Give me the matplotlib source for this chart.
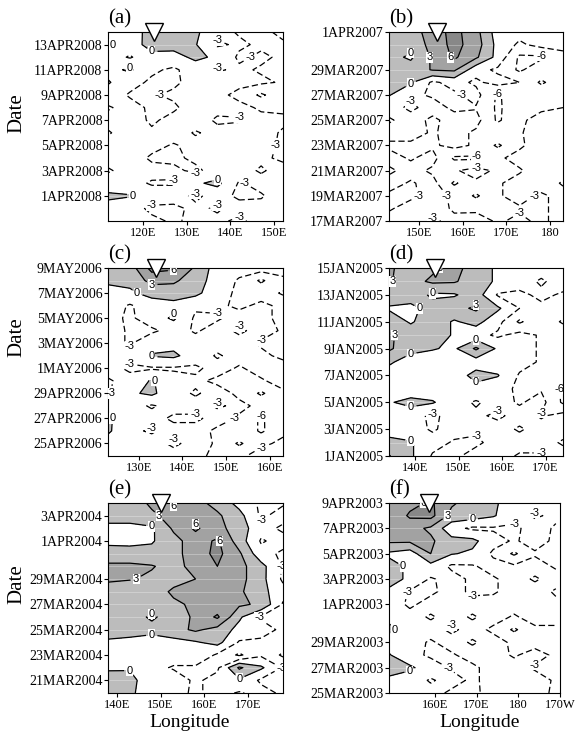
import matplotlib
matplotlib.use("Agg")
import matplotlib.pyplot as plt
import numpy as np

plt.rcParams["font.family"] = "Liberation Serif"

# ---- panel (a) : 30MAR2008 - 14APR2008, rows from top (latest day) to bottom
lon_a = [112, 117, 122, 127, 132, 137, 142, 147, 152]
field_a = [
    [-0.5, -2.0, 1.5, 2.0, 0.5, -2.0, -3.3, -3.5, -2.5],
    [0.4, -1.5, 1.2, 1.0, 0.2, -3.5, -2.5, -3.5, -3.3],
    [-1.5, -3.3, -1.0, -1.0, 0.6, -0.5, -3.5, -2.5, -3.5],
    [-1.0, 0.5, -2.5, -3.5, -1.5, -3.3, -2.5, -3.3, -3.5],
    [0.3, -2.0, -3.5, -3.5, -2.0, -1.5, -2.0, -2.5, -3.3],
    [-1.5, -3.3, -3.3, -2.5, -1.5, -2.0, -4.0, -6.5, -4.0],
    [-3.3, -2.0, -3.5, -3.5, -1.5, -2.0, -2.0, -3.5, -3.5],
    [-2.0, -1.5, -3.5, -2.0, -1.5, -3.5, -3.3, -2.0, -2.5],
    [-3.3, -1.5, -2.5, -1.5, -3.3, -2.0, -1.5, -2.0, -3.3],
    [-2.0, -1.0, -2.0, -3.3, -2.0, -1.5, -1.5, -2.0, -3.5],
    [-2.0, -1.5, -3.5, -3.5, -2.5, -1.5, -1.5, -2.5, -3.5],
    [-3.3, -2.0, -2.0, -2.5, -3.5, -2.0, -2.0, -3.3, -2.0],
    [-1.5, -2.0, -3.3, -3.2, -0.5, 0.8, -3.3, -2.0, -1.5],
    [0.5, 0.2, -1.5, -2.0, -3.5, -2.0, -3.5, -3.3, -1.5],
    [-1.0, -2.0, -3.5, -3.5, -2.5, -3.3, -2.0, -2.0, -2.0],
    [-1.5, -2.0, -2.5, -3.3, -2.5, -2.5, -3.5, -2.0, -2.0],
]
day_a = [2, 4, 6, 8, 10, 12, 14]
date_a = ["1APR2008", "3APR2008", "5APR2008", "7APR2008", "9APR2008", "11APR2008", "13APR2008"]
xt_a = [120, 130, 140, 150]
xl_a = ["120E", "130E", "140E", "150E"]
storm_a = 122.5

# ---- panel (b) : 17MAR2007 - 1APR2007
lon_b = [143, 148, 153, 158, 163, 168, 173, 178, 183]
field_b = [
    [1.5, 1.5, 4.5, 7.0, 4.0, -1.5, -2.0, -2.0, -2.0],
    [1.2, 1.0, 4.0, 7.0, 4.5, -1.0, -3.5, -2.0, -2.0],
    [1.0, -0.5, 3.5, 6.5, 3.5, -1.0, -6.5, -6.5, -4.0],
    [1.5, 1.5, 3.2, 3.5, -2.0, -3.5, -6.5, -4.0, -3.0],
    [1.5, 0.3, -3.5, -2.0, -3.5, -2.0, -3.0, -6.5, -4.0],
    [0.2, -2.5, -3.3, -3.5, -2.0, -6.5, -3.5, -3.5, -3.0],
    [-2.0, -3.5, -2.0, -3.5, -3.2, -6.5, -4.0, -3.5, -3.0],
    [-3.3, -2.0, -3.5, -2.0, -2.0, -6.5, -3.5, -2.0, -2.0],
    [-2.0, -2.0, -3.3, -2.0, -3.5, -3.5, -3.2, -2.0, -1.5],
    [-3.5, -3.5, -3.5, -2.0, -3.5, -6.5, -3.5, -1.5, -1.5],
    [-2.0, -3.3, -2.0, -6.5, -6.5, -3.5, -2.0, -1.5, -1.5],
    [-3.5, -2.0, -3.5, -3.3, -2.0, -3.5, -3.3, -1.5, -2.0],
    [-2.0, -3.3, -2.0, -6.5, -3.5, -3.3, -2.0, -1.5, -3.3],
    [-3.5, -3.5, -2.0, -3.5, -6.5, -3.3, -2.0, -3.5, -2.0],
    [-3.3, -2.0, -2.0, -3.3, -3.5, -3.5, -3.3, -3.5, -2.0],
    [-2.0, -2.0, -3.3, -2.5, -2.0, -3.3, -2.5, -3.5, -2.0],
]
day_b = [0, 2, 4, 6, 8, 10, 12, 15]
date_b = ["17MAR2007", "19MAR2007", "21MAR2007", "23MAR2007", "25MAR2007", "27MAR2007", "29MAR2007", "1APR2007"]
xt_b = [150, 160, 170, 180]
xl_b = ["150E", "160E", "170E", "180"]
storm_b = 154

# ---- panel (c) : 24APR2006 - 9MAY2006
lon_c = [123, 128, 133, 138, 143, 148, 153, 158, 163]
field_c = [
    [1.0, 1.5, 7.0, 6.5, 2.5, -1.5, -2.0, -1.5, -2.0],
    [0.5, 0.8, 4.0, 3.5, 1.5, -1.5, -3.3, -6.5, -3.5],
    [-1.0, -0.5, 1.0, 1.5, 0.8, -2.0, -3.5, -4.0, -6.5],
    [-1.5, -3.3, -1.5, -1.0, -2.5, -2.5, -3.5, -2.5, -3.5],
    [-2.0, -3.5, -1.5, 0.5, -3.5, -3.3, -2.0, -2.5, -3.5],
    [-2.0, -3.3, -3.5, -2.0, -3.3, -2.0, -3.5, -2.0, -3.3],
    [-2.0, -3.3, -1.0, -1.0, -2.0, -2.0, -2.0, -3.3, -3.5],
    [-2.0, -2.0, 0.2, 0.6, -1.5, -3.3, -2.0, -2.5, -3.5],
    [-2.0, -3.5, -3.3, -3.3, -3.5, -2.0, -3.3, -2.0, -2.0],
    [-3.3, -2.0, 0.3, -2.0, -2.5, -3.5, -3.3, -3.3, -2.0],
    [-3.3, -0.5, 0.6, -2.0, -3.3, -2.0, -3.5, -6.5, -3.5],
    [-2.0, -2.0, -3.3, -2.0, -2.0, -3.3, -2.5, -3.5, -3.3],
    [0.5, -2.0, -2.0, -3.5, -3.5, -2.0, -3.3, -6.5, -3.3],
    [0.5, -2.5, -3.3, -2.0, -2.0, -3.5, -3.3, -6.5, -3.5],
    [-1.5, -2.0, -2.0, -3.5, -2.0, -3.3, -6.5, -3.5, -2.5],
    [-2.0, -1.5, -2.0, -2.0, -2.5, -3.5, -3.5, -2.0, -2.0],
]
day_c = [1, 3, 5, 7, 9, 11, 13, 15]
date_c = ["25APR2006", "27APR2006", "29APR2006", "1MAY2006", "3MAY2006", "5MAY2006", "7MAY2006", "9MAY2006"]
xt_c = [130, 140, 150, 160]
xl_c = ["130E", "140E", "150E", "160E"]
storm_c = 134

# ---- panel (d) : 1JAN2005 - 15JAN2005
lon_d = [134, 139, 144, 149, 154, 159, 164, 169, 174]
field_d = [
    [3.5, 1.5, 2.5, 4.0, 1.5, -0.5, -1.5, -2.0, -2.0],
    [3.2, 2.0, 3.5, 3.3, 1.5, -0.5, -2.0, -3.3, -2.0],
    [1.5, 1.5, -0.5, -0.3, 1.5, -3.3, -3.5, -2.5, -3.3],
    [-0.3, -0.8, 1.2, 2.0, 3.5, 0.5, -3.0, -3.5, -4.0],
    [1.5, -0.3, 1.5, -0.3, 1.0, -2.0, -6.5, -3.5, -6.5],
    [3.5, 1.5, 1.0, -0.2, -2.0, -3.5, -2.0, -3.3, -3.5],
    [3.5, 1.0, 0.2, -0.5, 3.5, -0.5, -2.0, -3.3, -3.5],
    [0.5, -1.5, -1.5, -1.5, -1.5, -2.0, -2.0, -3.3, -3.3],
    [-1.5, -1.5, -2.0, -1.5, 1.0, 0.2, -3.3, -3.5, -3.5],
    [-1.5, -2.0, -2.0, -1.5, -1.0, -2.0, -3.5, -3.3, -6.5],
    [-0.3, 1.0, 0.3, -2.0, -3.3, -2.0, -3.3, -2.0, -6.5],
    [-1.5, -2.0, -3.5, -2.0, -2.5, -3.5, -2.0, -3.3, -2.0],
    [-1.5, -2.0, -3.3, -2.0, -2.5, -2.0, -3.3, -2.0, -2.0],
    [1.0, 0.3, -2.0, -3.3, -3.5, -2.0, -2.0, -2.0, -3.3],
    [3.2, 0.5, -3.3, -3.5, -2.0, -2.0, -3.3, -3.3, -2.0],
]
day_d = [0, 2, 4, 6, 8, 10, 12, 14]
date_d = ["1JAN2005", "3JAN2005", "5JAN2005", "7JAN2005", "9JAN2005", "11JAN2005", "13JAN2005", "15JAN2005"]
xt_d = [140, 150, 160, 170]
xl_d = ["140E", "150E", "160E", "170E"]
storm_d = 144.5

# ---- panel (e) : 20MAR2004 - 4APR2004
lon_e = [138, 143, 148, 153, 158, 163, 168, 173, 178]
field_e = [
    [1.5, 1.5, 3.5, 6.5, 4.0, 2.0, -1.0, -3.5, -3.3],
    [1.2, 1.5, 2.5, 4.0, 5.0, 3.5, 1.0, -3.5, -2.0],
    [-0.8, -1.0, -0.5, 3.5, 6.5, 4.0, 1.5, -2.0, -3.5],
    [-0.8, -1.0, -0.3, 2.0, 4.5, 6.5, 1.5, -3.3, -2.0],
    [1.5, 1.5, 1.0, 2.0, 4.5, 6.8, 3.5, -2.0, -3.5],
    [3.5, 3.5, 3.2, 2.0, 4.0, 6.0, 4.0, 1.0, -3.3],
    [3.5, 3.2, 2.5, 2.0, 3.0, 4.5, 4.0, 1.0, -3.5],
    [1.5, 1.0, 1.5, 3.5, 4.0, 3.0, 3.5, 1.0, -2.0],
    [1.5, 1.5, 1.5, 2.5, 3.5, 4.0, 3.5, 2.5, -3.3],
    [1.5, 1.5, -0.5, 1.5, 3.5, 6.5, 0.5, -3.3, -3.5],
    [1.5, 1.5, 1.0, 2.0, 3.5, 2.0, -1.0, -2.0, -3.5],
    [-0.5, -1.0, -1.5, -1.0, -0.3, 1.0, -3.3, -3.5, -4.0],
    [-1.0, -1.5, -1.5, -1.5, -0.5, -3.5, -6.5, -3.5, -6.5],
    [-0.5, -0.3, -2.0, -3.3, -3.5, -3.5, 3.5, 0.5, -3.3],
    [1.5, 1.0, -2.0, -1.5, -3.5, -2.0, -0.5, -3.5, -3.3],
    [1.5, 0.5, -1.5, -2.0, -3.5, -2.0, -3.3, -2.0, -3.5],
]
day_e = [1, 3, 5, 7, 9, 12, 14]
date_e = ["21MAR2004", "23MAR2004", "25MAR2004", "27MAR2004", "29MAR2004", "1APR2004", "3APR2004"]
xt_e = [140, 150, 160, 170]
xl_e = ["140E", "150E", "160E", "170E"]
storm_e = 150

# ---- panel (f) : 25MAR2003 - 9APR2003
lon_f = [149, 154, 159, 164, 169, 174, 179, 184, 189]
field_f = [
    [3.5, 5.0, 6.5, 3.5, 1.5, 0.5, -1.5, -2.0, -2.5],
    [3.2, 6.5, 7.0, 2.0, 1.5, 0.3, -2.0, -3.3, -2.5],
    [3.5, 4.0, 2.5, -2.0, -3.5, -3.3, -3.5, -2.0, -3.3],
    [3.5, 3.5, 3.5, 1.0, 0.8, -2.0, -3.3, -2.0, -3.5],
    [-0.5, -1.5, 3.0, 0.2, -0.5, -3.5, -6.5, -3.3, -3.5],
    [1.0, -0.5, -1.0, -3.5, -3.3, -2.0, -2.5, -2.0, -3.3],
    [1.0, -0.5, -3.3, -2.0, -3.5, -3.3, -2.0, -3.3, -2.0],
    [-0.5, -3.3, -3.5, -2.0, -3.5, -3.3, -2.0, -2.0, -3.3],
    [-1.5, -3.5, -2.0, -2.0, -2.0, -2.0, -2.0, -2.0, -2.5],
    [-0.5, -2.0, -3.3, -2.0, -3.3, -2.0, -3.3, -2.0, -2.0],
    [0.5, -1.5, -2.0, -3.5, -2.0, -3.5, -6.5, -3.5, -3.5],
    [-1.0, -2.0, -3.3, -2.0, -3.3, -2.0, -3.5, -4.0, -3.5],
    [0.2, -2.0, -3.5, -3.3, -2.0, -2.0, -3.3, -2.0, -3.5],
    [1.0, 0.5, -1.5, -3.3, -3.5, -2.0, -2.0, -3.3, -3.5],
    [-0.5, -1.5, -3.3, -2.0, -3.5, -2.0, -2.0, -2.0, -3.3],
    [-1.5, -2.0, -2.0, -3.5, -3.3, -2.5, -2.0, -2.0, -3.5],
]
day_f = [0, 2, 4, 7, 9, 11, 13, 15]
date_f = ["25MAR2003", "27MAR2003", "29MAR2003", "1APR2003", "3APR2003", "5APR2003", "7APR2003", "9APR2003"]
xt_f = [160, 170, 180, 190]
xl_f = ["160E", "170E", "180", "170W"]
storm_f = 158.5

panels = [
    ("(a)", lon_a, field_a, day_a, date_a, xt_a, xl_a, storm_a),
    ("(b)", lon_b, field_b, day_b, date_b, xt_b, xl_b, storm_b),
    ("(c)", lon_c, field_c, day_c, date_c, xt_c, xl_c, storm_c),
    ("(d)", lon_d, field_d, day_d, date_d, xt_d, xl_d, storm_d),
    ("(e)", lon_e, field_e, day_e, date_e, xt_e, xl_e, storm_e),
    ("(f)", lon_f, field_f, day_f, date_f, xt_f, xl_f, storm_f),
]

fig = plt.figure(figsize=(5.77, 7.34), dpi=100)
W, H = 577.0, 734.0
# axes boxes in pixels: left, top, right, bottom
boxes = [(108, 32, 283, 221), (389, 32, 563, 221),
         (108, 268, 283, 456), (389, 268, 563, 456),
         (108, 503, 283, 693), (389, 503, 560, 693)]

for (tag, lon, field, yt, yl, xt, xl, storm), (l, t, r, b) in zip(panels, boxes):
    ax = fig.add_axes([l / W, 1 - b / H, (r - l) / W, (b - t) / H])
    z = np.array(field)[::-1]
    day = np.arange(z.shape[0])
    ax.contourf(lon, day, z, levels=[0, 3, 6, 50],
                colors=["#bcbcbc", "#a2a2a2", "#888888"])
    # faint raster lines that show through the shading
    for d in day[1:-1]:
        ax.axhline(d, color="white", lw=0.6, alpha=0.35, zorder=1.5)
    neg = ax.contour(lon, day, z, levels=[-9, -6, -3], colors="k", linewidths=0.9)
    neg.set_linestyle((0, (5, 2.5)))
    pos = ax.contour(lon, day, z, levels=[0, 3, 6], colors="k", linewidths=0.9)
    for cs in (neg, pos):
        labs = ax.clabel(cs, fmt="%d", fontsize=8, inline=True, inline_spacing=3)
        for txt in labs:
            txt.set_rotation(0)
            txt.set_family("Liberation Sans")
            txt.set_bbox(dict(fc="white", ec="none", pad=0.2))
    ax.set_xlim(lon[0], lon[-1])
    ax.set_ylim(0, day[-1])
    ax.set_xticks(xt)
    ax.set_xticklabels(xl, fontsize=9)
    ax.set_yticks(yt)
    ax.set_yticklabels(yl, fontsize=10)
    ax.tick_params(direction="out", length=3, width=0.8, pad=1)
    ax.plot(storm, day[-1], marker="v", ms=13, mfc="white", mec="k", mew=1,
            clip_on=False, zorder=10)
    ax.text(0.0, 1.02, tag, transform=ax.transAxes, fontsize=15,
            ha="left", va="bottom")

for yy in (113, 337, 584):
    fig.text(0.030, 1 - yy / H, "Date", rotation=90, fontsize=15, ha="center", va="center")
for xx in (190, 480):
    fig.text(xx / W, 1 - 727 / H, "Longitude", fontsize=14, ha="center", va="baseline")

fig.savefig("out.png", dpi=100)
